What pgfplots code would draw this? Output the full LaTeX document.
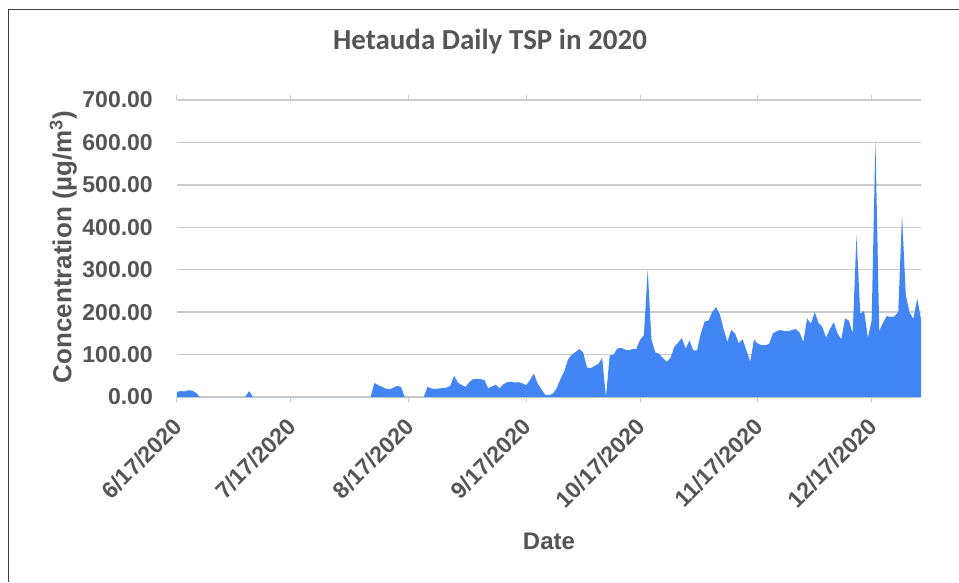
\documentclass[border=0pt]{standalone}
\usepackage{pgfplots}
\pgfplotsset{compat=1.18}
\usepackage{fontspec}
\setmainfont{Liberation Sans}
\newfontfamily\titlefont{Carlito}
\definecolor{areablue}{HTML}{4285F4}
\definecolor{gridgray}{HTML}{CCCCCC}
\definecolor{txtgray}{HTML}{555555}
\pgfplotstableread{
x y
0 12
1 14
2 13
3 16
4 15
5 10
6 0
18 0
19 14
20 0
51 0
52 33
53 28
54 24
55 20
56 18
57 22
58 26
59 24
60 0
65 0
66 24
67 20
68 19
69 20
70 21
71 22
72 26
73 50
74 34
75 28
76 24
77 35
78 42
79 43
80 42
81 40
82 20
83 25
84 29
85 20
86 30
87 35
88 36
89 34
90 35
91 32
92 28
93 40
94 55
95 32
96 18
97 5
98 4
99 8
100 20
101 42
102 60
103 88
104 100
105 106
106 113
107 105
108 70
109 68
110 73
111 78
112 92
113 0
114 98
115 100
116 114
117 116
118 112
119 110
120 113
121 113
122 135
123 145
124 300
125 135
126 105
127 102
128 92
129 83
130 92
131 118
132 128
133 139
134 114
135 133
136 110
137 110
138 150
139 178
140 180
141 200
142 212
143 195
144 160
145 130
146 158
147 150
148 127
149 136
150 110
151 83
152 135
153 126
154 122
155 122
156 125
157 150
158 155
159 158
160 155
161 155
162 158
163 160
164 152
165 130
166 185
167 173
168 200
169 175
170 165
171 140
172 160
173 176
174 150
175 136
176 185
177 180
178 150
179 380
180 196
181 203
182 140
183 180
184 605
185 156
186 175
187 191
188 188
189 190
190 200
191 428
192 240
193 199
194 184
195 232
196 184
}\tsp
\begin{document}
\begin{tikzpicture}
\path[use as bounding box] (0,0) rectangle (959pt,582pt);
\fill[white] (0,0) rectangle (959pt,582pt);
\draw[black!75, line width=1.5pt] (8.5pt,0) -- (8.5pt,572.5pt) -- (959pt,572.5pt);
\begin{axis}[
  at={(177pt,185pt)}, anchor=south west,
  scale only axis, width=744pt, height=297pt,
  xmin=0, xmax=196, ymin=0, ymax=700,
  axis line style={draw=none},
  ymajorgrids, grid style={color=gridgray, line width=1.3pt},
  ytick={0,100,...,700},
  ytick style={draw=none},
  xtick={0,30,61,92,122,153,183},
  xticklabels={6/17/2020,7/17/2020,8/17/2020,9/17/2020,10/17/2020,11/17/2020,12/17/2020},
  xtick style={draw=gridgray, line width=1pt},
  tick align=outside, major tick length=5pt,
  /pgf/number format/assume math mode=true,
  yticklabel={\pgfmathprintnumber[fixed, fixed zerofill, precision=2]{\tick}},
  yticklabel style={font=\fontsize{23}{23}\selectfont\bfseries, text=txtgray, inner sep=0pt, anchor=east, xshift=-19pt},
  xticklabel style={font=\fontsize{23}{23}\selectfont\bfseries, text=txtgray, inner sep=0pt, xshift=-5pt, yshift=-14pt, rotate=45, anchor=north east},
  xlabel={Date},
  xlabel style={font=\fontsize{24}{24}\selectfont\bfseries, text=txtgray, at={(axis description cs:0.5,-0.485)}, anchor=center},
  ylabel={Concentration (µg/m\textsuperscript{3})},
  ylabel style={font=\fontsize{26}{26}\selectfont\bfseries, text=txtgray, at={(axis description cs:-0.153,0.505)}, anchor=center, rotate=0},
  title={Hetauda Daily TSP in 2020},
  title style={font=\titlefont\fontsize{29}{29}\selectfont\bfseries, text=txtgray, at={(axis description cs:0.4207,1.175)}, anchor=center},
]
\addplot[fill=areablue, draw=none] table[x=x, y=y] {\tsp} \closedcycle;
\end{axis}
\end{tikzpicture}
\end{document}
